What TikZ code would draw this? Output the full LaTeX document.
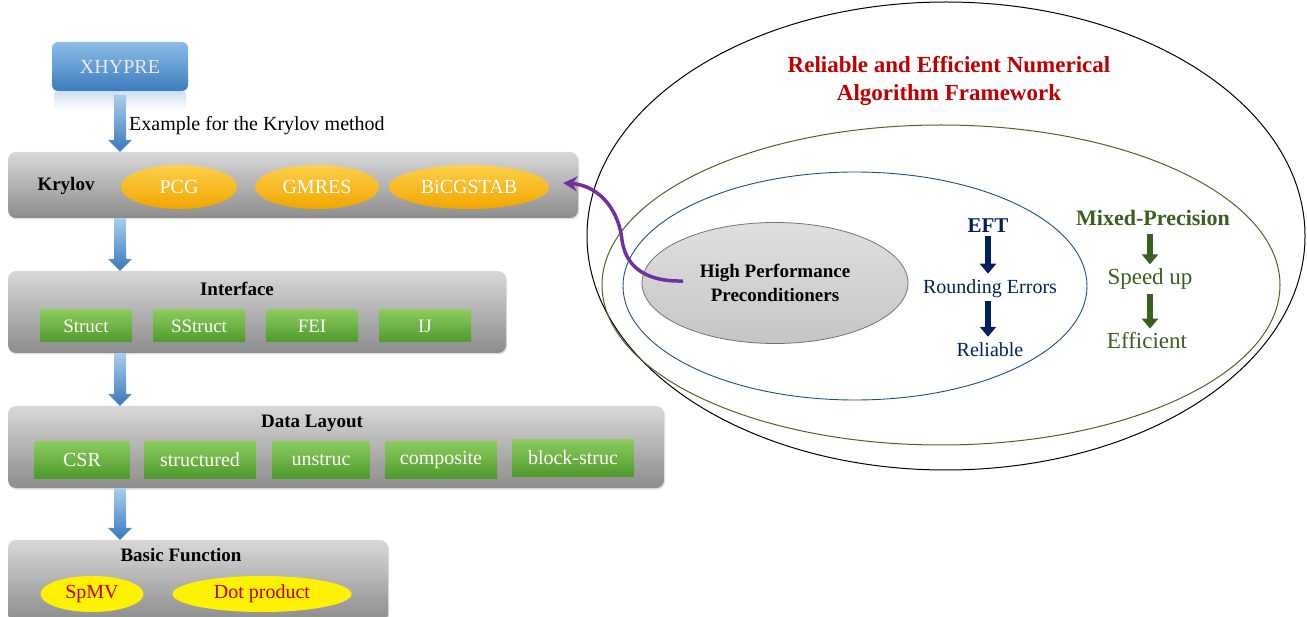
\documentclass[tikz,border=0pt]{standalone}
\usepackage{fontspec}
\setmainfont{Liberation Serif}
\usetikzlibrary{arrows.meta,calc,shapes.geometric,shadows}
\definecolor{laytop}{HTML}{D8D8D8}
\definecolor{laybot}{HTML}{8C8C8C}
\definecolor{orgtop}{HTML}{FFD04A}
\definecolor{orgbot}{HTML}{F0A500}
\definecolor{grntop}{HTML}{8CCB5E}
\definecolor{grnbot}{HTML}{4E9A2C}
\definecolor{xhtop}{HTML}{8DBDE6}
\definecolor{xhbot}{HTML}{3C7BBE}
\definecolor{arrtop}{HTML}{A9CDEE}
\definecolor{arrbot}{HTML}{3A78BA}
\definecolor{titlered}{HTML}{C00000}
\definecolor{navy}{HTML}{002060}
\definecolor{olive}{HTML}{3B5E22}
\definecolor{ellgreen}{HTML}{4F6228}
\definecolor{ellblue}{HTML}{1F4E79}
\definecolor{purp}{HTML}{7030A0}
\newcommand\bluearr[2]{%
  \path[top color=arrtop,bottom color=arrbot]
    ($(#1)+(-6,0)$) -- ($(#1)+(6,0)$) -- ($(#2)+(6,-12)$) -- ($(#2)+(12,-12)$)
    -- (#2) -- ($(#2)+(-12,-12)$) -- ($(#2)+(-6,-12)$) -- cycle;}
\tikzset{
  layer/.style={rounded corners=8pt, top color=laytop, bottom color=laybot,
    draw=none, drop shadow={opacity=0.25,shadow xshift=1pt,shadow yshift=-1.5pt}},
  layertitle/.style={font=\fontsize{19}{23}\selectfont\bfseries, text=black, inner sep=1pt},
  orgell/.style={ellipse, top color=orgtop, bottom color=orgbot, draw=none,
    minimum height=44pt, text=white, font=\fontsize{20}{24}\selectfont, inner sep=0pt},
  grnbox/.style={rectangle, top color=grntop, bottom color=grnbot, draw=none,
    text=white, inner sep=0pt},
  yelell/.style={ellipse, fill=yellow, draw=none, minimum height=36pt,
    text=titlered, font=\fontsize{20}{24}\selectfont, inner sep=0pt},
  fatnavy/.style={draw=navy, line width=6.5pt, -{Triangle[width=16pt,length=10pt]}},
  fatolive/.style={draw=olive, line width=6.5pt, -{Triangle[width=16pt,length=10pt]}},
}
\begin{document}
\begin{tikzpicture}[x=1pt,y=-1pt]
\useasboundingbox (0,0) rectangle (1307,617);
% ---------- left column ----------
\path[top color=xhbot!25, bottom color=white, rounded corners=4pt] (54,91) rectangle (186,110);
\node[rounded corners=6pt, top color=xhtop, bottom color=xhbot, minimum width=136pt,
  minimum height=49pt, text=white!92!blue, font=\fontsize{20}{24}\selectfont] (xhypre) at (120,66.5) {XHYPRE};

\node[layer, minimum width=570pt, minimum height=66pt] (krylov) at (293,185) {};
\node[layertitle] (krylovt) at (66,186) {Krylov};
\node[orgell, minimum width=116pt] (pcg) at (179,187) {PCG};
\node[orgell, minimum width=124pt] (gmres) at (317,187) {GMRES};
\node[orgell, minimum width=160pt] (bicg) at (469,187) {BiCGSTAB};

\node[layer, minimum width=498pt, minimum height=82pt] (iface) at (257,312) {};
\node[layertitle] (ifacet) at (237,289) {Interface};
\foreach \n/\t/\x in {st/Struct/86, sst/SStruct/199, fei/FEI/312, ij/IJ/425}
  \node[grnbox, minimum width=92pt, minimum height=32pt, font=\fontsize{19}{23}\selectfont] (\n) at (\x,326) {\t};

\node[layer, minimum width=656pt, minimum height=82pt] (dlay) at (336,447) {};
\node[layertitle] (dlayt) at (312,423) {Data Layout};
\node[grnbox, minimum width=95pt, minimum height=36pt, font=\fontsize{20}{24}\selectfont] (csr) at (82,460) {CSR};
\node[grnbox, minimum width=111pt, minimum height=36pt, font=\fontsize{20}{24}\selectfont] (struc) at (200,460) {structured};
\node[grnbox, minimum width=97pt, minimum height=36pt, font=\fontsize{20}{24}\selectfont] (unst) at (321,460) {unstruc};
\node[grnbox, minimum width=112pt, minimum height=36pt, font=\fontsize{20}{24}\selectfont] (comp) at (441,460) {composite};
\node[grnbox, minimum width=121pt, minimum height=36pt, font=\fontsize{20}{24}\selectfont] (blk) at (573,458) {block-struc};

\node[layer, minimum width=380pt, minimum height=82pt] (basic) at (198,581) {};
\node[layertitle] (basict) at (181,555) {Basic Function};
\node[yelell, minimum width=103pt] (spmv) at (92,594) {SpMV};
\node[yelell, minimum width=179pt] (dot) at (262,594) {Dot product};

% blue arrows
\coordinate (a1s) at (120,95);
\coordinate (a1e) at (krylov.north -| a1s);
\coordinate (a2s) at (krylov.south -| a1s);
\coordinate (a2e) at (iface.north -| a1s);
\coordinate (a3s) at (iface.south -| a1s);
\coordinate (a3e) at (dlay.north -| a1s);
\coordinate (a4s) at (dlay.south -| a1s);
\coordinate (a4e) at (basic.north -| a1s);
\bluearr{a1s}{a1e}
\bluearr{a2s}{a2e}
\bluearr{a3s}{a3e}
\bluearr{a4s}{a4e}
\node[anchor=west, font=\fontsize{20}{24}\selectfont, inner sep=0pt] (example) at (129,126) {Example for the Krylov method};

% ---------- right side ----------
\draw[black, line width=1pt] (946,236) ellipse [x radius=359pt, y radius=234pt];
\draw[ellgreen, line width=1pt] (941,285) ellipse [x radius=339pt, y radius=160pt];
\draw[ellblue, line width=0.9pt] (855,286) ellipse [x radius=232pt, y radius=114pt];

\node[align=center, text=titlered, font=\fontsize{23}{28}\selectfont\bfseries] (title) at (949,81)
  {Reliable and Efficient Numerical\\Algorithm Framework};

\node[ellipse, draw=gray!90!black, line width=0.8pt, top color=gray!25, bottom color=gray!45,
  minimum width=266pt, minimum height=121pt, align=center,
  font=\fontsize{19}{24}\selectfont\bfseries] (hpp) at (775,283)
  {High Performance\\Preconditioners};

\node[text=navy, font=\fontsize{21}{25}\selectfont\bfseries, inner sep=1pt] (eft) at (988,226) {EFT};
\node[text=navy, font=\fontsize{20}{24}\selectfont, inner sep=1pt] (rnd) at (990,289) {Rounding Errors};
\node[text=navy, font=\fontsize{20}{24}\selectfont, inner sep=1pt] (rel) at (990,350) {Reliable};
\draw[fatnavy] ($(eft.south)+(0,2)$) -- ($(eft.south |- rnd.north)+(0,-5)$);
\draw[fatnavy] ($(eft.south |- rnd.south)+(0,2)$) -- ($(eft.south |- rel.north)+(0,-5)$);

\node[text=olive, font=\fontsize{22}{26}\selectfont\bfseries, inner sep=1pt] (mixed) at (1153,218) {Mixed-Precision};
\node[text=olive, font=\fontsize{23}{27}\selectfont, inner sep=1pt] (speed) at (1150,279) {Speed up};
\node[text=olive, font=\fontsize{23}{27}\selectfont, inner sep=1pt] (eff) at (1147,341) {Efficient};
\draw[fatolive] ($(speed.north)+(0,-33)$) -- ($(speed.north)+(0,-3)$);
\draw[fatolive] ($(speed.south)+(0,3)$) -- ($(speed.south |- eff.north)+(0,-3)$);

% purple connector
\coordinate (pstart) at ($(hpp.center)+(-92,-2)$);
\coordinate (pend) at ($(bicg.east)+(14,-4)$);
\draw[purp, line width=3.5pt, -{Stealth[length=14pt,width=15pt]}]
  (pstart) .. controls (640,282) and (625,262) .. (622,240)
  .. controls (618,205) and (595,185) .. (pend);
\end{tikzpicture}
\end{document}
